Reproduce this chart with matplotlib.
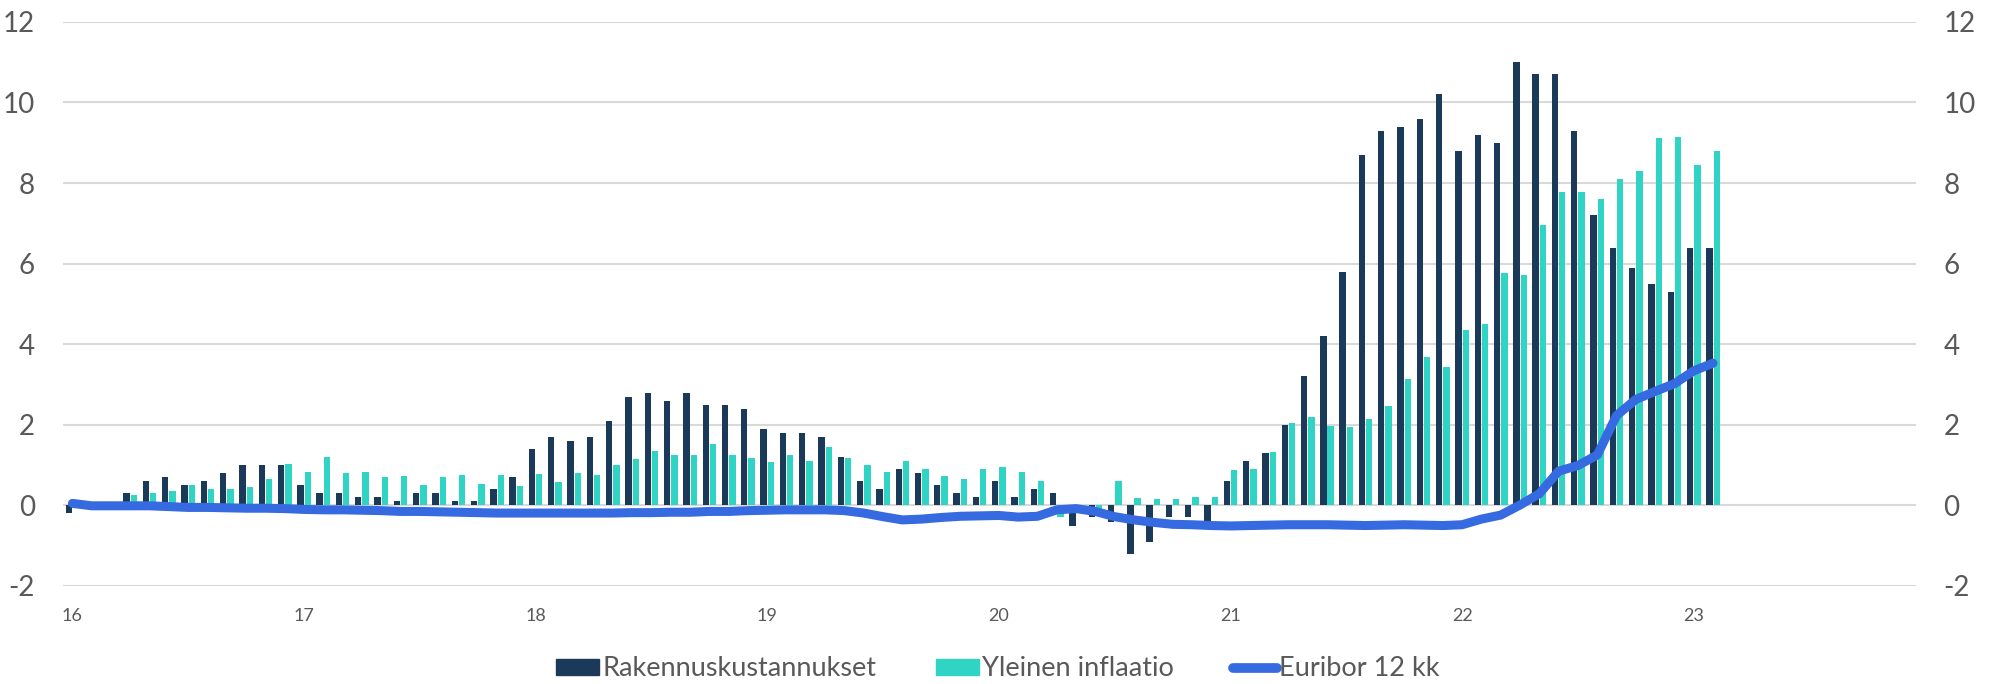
import numpy as np
import matplotlib.pyplot as plt
from matplotlib.lines import Line2D
from matplotlib.patches import Patch

plt.rcParams['font.family'] = ['Lato', 'DejaVu Sans']
plt.rcParams['axes.unicode_minus'] = False

# monthly values, Jan 2016 .. Feb 2023
rakennus = [
    -0.2, 0.0, 0.0, 0.3, 0.6, 0.7, 0.5, 0.6, 0.8, 1.0, 1.0, 1.0,
    0.5, 0.3, 0.3, 0.2, 0.2, 0.1, 0.3, 0.3, 0.1, 0.1, 0.4, 0.7,
    1.4, 1.7, 1.6, 1.7, 2.1, 2.7, 2.8, 2.6, 2.8, 2.5, 2.5, 2.4,
    1.9, 1.8, 1.8, 1.7, 1.2, 0.6, 0.4, 0.9, 0.8, 0.5, 0.3, 0.2,
    0.6, 0.2, 0.4, 0.3, -0.5, -0.3, -0.4, -1.2, -0.9, -0.3, -0.3, -0.4,
    0.6, 1.1, 1.3, 2.0, 3.2, 4.2, 5.8, 8.7, 9.3, 9.4, 9.6, 10.2,
    8.8, 9.2, 9.0, 11.0, 10.7, 10.7, 9.3, 7.2, 6.4, 5.9, 5.5, 5.3,
    6.4, 6.4,
]

inflaatio = [
    0.0, 0.0, 0.0, 0.25, 0.3, 0.35, 0.5, 0.4, 0.4, 0.45, 0.65, 1.03,
    0.83, 1.2, 0.8, 0.83, 0.7, 0.74, 0.5, 0.7, 0.76, 0.52, 0.76, 0.47,
    0.78, 0.58, 0.8, 0.75, 1.0, 1.14, 1.35, 1.24, 1.24, 1.52, 1.24, 1.17,
    1.07, 1.24, 1.11, 1.45, 1.17, 1.0, 0.82, 1.09, 0.9, 0.74, 0.66, 0.9,
    0.96, 0.83, 0.6, -0.3, -0.2, -0.1, 0.6, 0.19, 0.15, 0.17, 0.2, 0.22,
    0.87, 0.9, 1.32, 2.04, 2.2, 1.96, 1.94, 2.14, 2.46, 3.14, 3.68, 3.44,
    4.35, 4.51, 5.78, 5.72, 6.95, 7.78, 7.77, 7.6, 8.1, 8.3, 9.12, 9.15,
    8.44, 8.8,
]

euribor = [
    0.05, -0.01, -0.01, -0.01, -0.01, -0.03, -0.05, -0.05, -0.06, -0.07, -0.07, -0.08,
    -0.10, -0.11, -0.11, -0.12, -0.13, -0.15, -0.15, -0.16, -0.17, -0.18, -0.19, -0.19,
    -0.19, -0.19, -0.19, -0.19, -0.19, -0.18, -0.18, -0.17, -0.17, -0.15, -0.15, -0.13,
    -0.12, -0.11, -0.11, -0.11, -0.13, -0.19, -0.28, -0.36, -0.34, -0.30, -0.27, -0.26,
    -0.25, -0.29, -0.27, -0.11, -0.08, -0.15, -0.28, -0.36, -0.42, -0.47, -0.48, -0.50,
    -0.51, -0.50, -0.49, -0.48, -0.48, -0.48, -0.49, -0.50, -0.49, -0.48, -0.49, -0.50,
    -0.48, -0.34, -0.24, 0.01, 0.29, 0.85, 0.99, 1.25, 2.23, 2.63, 2.83, 3.02,
    3.34, 3.53,
]

year_labels = ['16', '17', '18', '19', '20', '21', '22', '23']

dark = '#1b3a5a'
teal = '#2fd4c4'
blue = '#356ae0'
grey = '#595959'

x = np.arange(len(rakennus))

fig = plt.figure(figsize=(19.92, 6.84), dpi=100)
ax = fig.add_axes([0.0315, 0.1433, 0.9302, 0.8247])

ax.bar(x - 0.19, rakennus, width=0.33, color=dark, zorder=2)
ax.bar(x + 0.19, inflaatio, width=0.33, color=teal, zorder=2)
ax.plot(x, euribor, color=blue, linewidth=6.5, solid_capstyle='round',
        solid_joinstyle='round', zorder=3)

ax.set_xlim(-0.5, 95.5)
ax.set_ylim(-2, 12)
ax.set_yticks(range(-2, 13, 2))
ax.set_xticks(np.arange(len(year_labels)) * 12)
ax.set_xticklabels(year_labels)
ax.grid(axis='y', color='#d9d9d9', linewidth=1.5, zorder=0)
ax.set_axisbelow(True)
for s in ax.spines.values():
    s.set_visible(False)

ax.tick_params(axis='y', length=0, labelsize=20, labelcolor=grey, pad=20,
               labelright=True)
ax.tick_params(axis='x', length=0, labelsize=13, labelcolor=grey, pad=16)

handles = [
    Patch(color=dark, label='Rakennuskustannukset'),
    Patch(color=teal, label='Yleinen inflaatio'),
    Line2D([0], [0], color=blue, linewidth=7, solid_capstyle='round',
           label='Euribor 12 kk'),
]
fig.legend(handles=handles, loc='center', bbox_to_anchor=(0.501, 0.022),
           ncol=3, frameon=False, fontsize=19.5, labelcolor=grey,
           handlelength=1.6, handleheight=0.5, handletextpad=0.1,
           columnspacing=2.2)

fig.savefig('out.png', dpi=100)
